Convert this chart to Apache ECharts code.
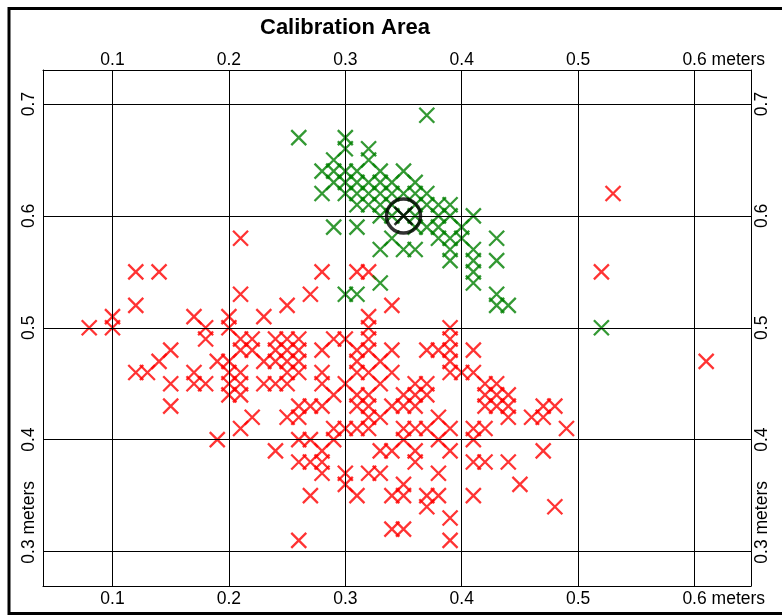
<!DOCTYPE html>
<html><head><meta charset="utf-8">
<script src="https://cdn.jsdelivr.net/npm/echarts@6/dist/echarts.min.js"></script>
<style>html,body{margin:0;padding:0;background:#fff}#c{width:782px;height:615px}</style>
</head><body><div id="c"></div>
<script>
const titleText = 'Calibration Area';
const xTicks = [0.1, 0.2, 0.3, 0.4, 0.5, 0.6];
const yTicks = [0.3, 0.4, 0.5, 0.6, 0.7];
const xUnitTick = 0.6;
const yUnitTick = 0.3;
const unitText = ' meters';

const redPoints = [
[0.53,0.62],
[0.21,0.58],
[0.12,0.55],[0.14,0.55],[0.28,0.55],[0.31,0.55],[0.32,0.55],[0.52,0.55],
[0.21,0.53],[0.27,0.53],
[0.12,0.52],[0.25,0.52],[0.34,0.52],
[0.10,0.51],[0.17,0.51],[0.20,0.51],[0.23,0.51],[0.32,0.51],
[0.08,0.50],[0.10,0.50],[0.18,0.50],[0.20,0.50],[0.32,0.50],[0.39,0.50],
[0.18,0.49],[0.21,0.49],[0.22,0.49],[0.24,0.49],[0.25,0.49],[0.26,0.49],[0.29,0.49],[0.30,0.49],[0.32,0.49],[0.39,0.49],
[0.15,0.48],[0.21,0.48],[0.22,0.48],[0.24,0.48],[0.25,0.48],[0.26,0.48],[0.28,0.48],[0.31,0.48],[0.32,0.48],[0.34,0.48],[0.37,0.48],[0.38,0.48],[0.39,0.48],[0.41,0.48],
[0.14,0.47],[0.19,0.47],[0.20,0.47],[0.23,0.47],[0.24,0.47],[0.25,0.47],[0.26,0.47],[0.31,0.47],[0.33,0.47],[0.39,0.47],[0.61,0.47],
[0.12,0.46],[0.13,0.46],[0.17,0.46],[0.20,0.46],[0.21,0.46],[0.25,0.46],[0.26,0.46],[0.28,0.46],[0.31,0.46],[0.32,0.46],[0.34,0.46],[0.39,0.46],[0.40,0.46],[0.41,0.46],
[0.15,0.45],[0.17,0.45],[0.18,0.45],[0.20,0.45],[0.21,0.45],[0.23,0.45],[0.24,0.45],[0.25,0.45],[0.28,0.45],[0.30,0.45],[0.33,0.45],[0.36,0.45],[0.37,0.45],[0.42,0.45],[0.43,0.45],
[0.20,0.44],[0.21,0.44],[0.29,0.44],[0.31,0.44],[0.32,0.44],[0.35,0.44],[0.36,0.44],[0.37,0.44],[0.42,0.44],[0.43,0.44],[0.44,0.44],
[0.15,0.43],[0.26,0.43],[0.27,0.43],[0.28,0.43],[0.31,0.43],[0.32,0.43],[0.34,0.43],[0.35,0.43],[0.36,0.43],[0.42,0.43],[0.43,0.43],[0.44,0.43],[0.47,0.43],[0.48,0.43],
[0.22,0.42],[0.25,0.42],[0.26,0.42],[0.32,0.42],[0.33,0.42],[0.38,0.42],[0.44,0.42],[0.46,0.42],[0.47,0.42],
[0.21,0.41],[0.29,0.41],[0.30,0.41],[0.31,0.41],[0.32,0.41],[0.35,0.41],[0.36,0.41],[0.37,0.41],[0.39,0.41],[0.41,0.41],[0.42,0.41],[0.49,0.41],
[0.19,0.40],[0.26,0.40],[0.27,0.40],[0.29,0.40],[0.35,0.40],[0.38,0.40],[0.41,0.40],
[0.24,0.39],[0.28,0.39],[0.33,0.39],[0.34,0.39],[0.36,0.39],[0.39,0.39],[0.47,0.39],
[0.26,0.38],[0.27,0.38],[0.28,0.38],[0.36,0.38],[0.41,0.38],[0.42,0.38],[0.44,0.38],
[0.28,0.37],[0.30,0.37],[0.32,0.37],[0.33,0.37],[0.38,0.37],
[0.30,0.36],[0.35,0.36],[0.45,0.36],
[0.27,0.35],[0.31,0.35],[0.34,0.35],[0.35,0.35],[0.37,0.35],[0.38,0.35],[0.41,0.35],
[0.37,0.34],[0.48,0.34],
[0.39,0.33],
[0.34,0.32],[0.35,0.32],
[0.26,0.31],[0.39,0.31]
];

const greenPoints = [
[0.37,0.69],
[0.26,0.67],[0.30,0.67],
[0.30,0.66],[0.32,0.66],
[0.29,0.65],[0.32,0.65],
[0.28,0.64],[0.29,0.64],[0.30,0.64],[0.31,0.64],[0.33,0.64],[0.35,0.64],
[0.29,0.63],[0.30,0.63],[0.31,0.63],[0.32,0.63],[0.33,0.63],[0.34,0.63],[0.36,0.63],
[0.28,0.62],[0.30,0.62],[0.31,0.62],[0.32,0.62],[0.33,0.62],[0.34,0.62],[0.35,0.62],[0.36,0.62],[0.37,0.62],
[0.31,0.61],[0.32,0.61],[0.33,0.61],[0.34,0.61],[0.36,0.61],[0.37,0.61],[0.38,0.61],[0.39,0.61],
[0.33,0.60],[0.34,0.60],[0.35,0.60],[0.36,0.60],[0.38,0.60],[0.39,0.60],[0.41,0.60],
[0.29,0.59],[0.31,0.59],[0.36,0.59],[0.37,0.59],[0.38,0.59],[0.40,0.59],
[0.34,0.58],[0.38,0.58],[0.39,0.58],[0.40,0.58],[0.43,0.58],
[0.33,0.57],[0.35,0.57],[0.36,0.57],[0.39,0.57],[0.41,0.57],
[0.39,0.56],[0.41,0.56],[0.43,0.56],
[0.41,0.55],
[0.33,0.54],[0.41,0.54],
[0.30,0.53],[0.31,0.53],[0.43,0.53],
[0.43,0.52],[0.44,0.52],
[0.52,0.50]
];

const targetPoint = [[0.35,0.60]];

const X_RANGE = [0.0403, 0.6485];
const Y_RANGE = [0.2692, 0.7304];
const FONT = '"Liberation Sans", Arial, sans-serif';
const CROSS = 'path://M0,0L10,10M10,0L0,10';

function labelFmt(unitTick) {
  return function (v) {
    const s = Number(v).toFixed(1);
    if (Math.abs(v - unitTick) < 1e-9) return '{p|' + unitText + '}{n|' + s + '}{n|' + unitText + '}';
    return '{n|' + s + '}';
  };
}
const rich = { n: { fontFamily: FONT, fontSize: 17.5, color: '#000' }, p: { fontFamily: FONT, fontSize: 17.5, color: 'rgba(0,0,0,0)' } };

function xAxisDef(pos, margin) {
  return {
    type: 'value', position: pos, min: X_RANGE[0], max: X_RANGE[1],
    axisLine: { show: true, onZero: false, lineStyle: { color: '#000', width: 1 } },
    axisTick: { show: false },
    splitLine: { show: false },
    axisLabel: { show: true, customValues: xTicks, margin: margin, formatter: labelFmt(xUnitTick), rich: rich, hideOverlap: false }
  };
}
function yAxisDef(pos, margin) {
  return {
    type: 'value', position: pos, min: Y_RANGE[0], max: Y_RANGE[1],
    axisLine: { show: true, onZero: false, lineStyle: { color: '#000', width: 1 } },
    axisTick: { show: false },
    splitLine: { show: false },
    axisLabel: { show: true, rotate: 90, customValues: yTicks, margin: margin, formatter: labelFmt(yUnitTick), rich: rich, hideOverlap: false }
  };
}

const gridLines = xTicks.map(v => ({ xAxis: v })).concat(yTicks.map(v => ({ yAxis: v })));

const chart = echarts.init(document.getElementById('c'), null, { renderer: 'canvas' });
chart.setOption({
  animation: false,
  backgroundColor: '#fff',
  grid: { left: 43, right: 31, top: 70, bottom: 29, outerBoundsMode: 'none' },
  xAxis: [xAxisDef('bottom', 4), xAxisDef('top', 1)],
  yAxis: [yAxisDef('left', 5), yAxisDef('right', 2)],
  graphic: [
    { type: 'rect', shape: { x: 9, y: 8.5, width: 820, height: 605 }, style: { fill: 'none', stroke: '#000', lineWidth: 3 }, silent: true },
    { type: 'text', left: 260, top: 17, style: { text: titleText, font: 'bold 22px ' + FONT, fill: '#000' } }
  ],
  series: [
    { type: 'scatter', data: [], z: 1, silent: true,
      markLine: { silent: true, symbol: ['none', 'none'], label: { show: false }, animation: false,
        lineStyle: { color: '#000', width: 1, type: 'solid' }, emphasis: { disabled: true }, data: gridLines } },
    { type: 'scatter', data: redPoints, z: 3, symbol: CROSS, symbolSize: 15, silent: true,
      itemStyle: { color: 'rgba(0,0,0,0)', borderColor: '#ff0000', borderWidth: 2.3 } },
    { type: 'scatter', data: greenPoints, z: 4, symbol: CROSS, symbolSize: 15, silent: true,
      itemStyle: { color: 'rgba(0,0,0,0)', borderColor: '#008000', borderWidth: 2.3 } },
    { type: 'scatter', data: targetPoint, z: 5, symbol: 'circle', symbolSize: 34, silent: true,
      itemStyle: { color: 'rgba(0,0,0,0)', borderColor: '#000', borderWidth: 3.5 } },
    { type: 'scatter', data: targetPoint, z: 5, symbol: CROSS, symbolSize: 18, silent: true,
      itemStyle: { color: 'rgba(0,0,0,0)', borderColor: '#000', borderWidth: 2.5 } }
  ]
});
</script>
</body></html>
